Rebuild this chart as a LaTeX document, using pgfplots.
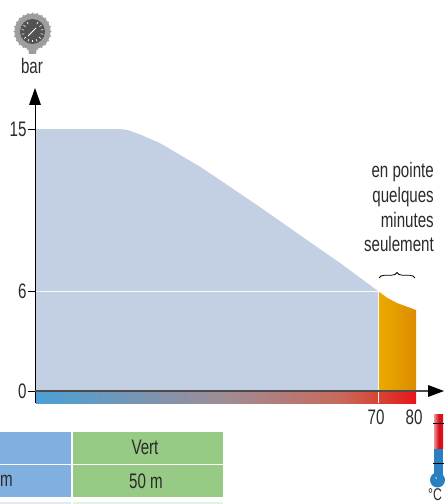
\documentclass[border=0pt]{standalone}
\usepackage{fontspec}
\setmainfont[FakeStretch=0.72]{Liberation Sans}
\usepackage{pgfplots}
\pgfplotsset{compat=1.18}
\usetikzlibrary{arrows.meta,decorations.pathreplacing}
\definecolor{areablue}{HTML}{C3CFE2}
\definecolor{cellblue}{HTML}{7FB0E0}
\definecolor{cellgreen}{HTML}{96CA85}
\definecolor{stripa}{HTML}{4AA0D6}
\definecolor{stripb}{HTML}{A08C94}
\definecolor{stripc}{HTML}{C76A5C}
\definecolor{stripd}{HTML}{D64535}
\definecolor{stripe}{HTML}{E8141C}
\definecolor{therblue}{HTML}{2A7FC0}
\definecolor{therred}{HTML}{D8101C}
\definecolor{inkgrey}{HTML}{2A2A2A}
\tikzset{txt/.style={font=\fontsize{21}{24}\selectfont, text=inkgrey}}
\begin{document}
\begin{tikzpicture}[x=1pt,y=-1pt,yshift=504pt]
\path[use as bounding box] (0,0) rectangle (446,504);
\begin{axis}[
at={(36pt,-403pt)}, anchor=south west,
scale only axis, width=380pt, height=315pt,
xmin=-20, xmax=80, ymin=-0.72, ymax=17.28,
y coord trafo/.code={\pgfmathparse{#1<=6 ? #1*100/6 : 100+(#1-6)*18}\pgfmathresult},
axis line style={draw=none},
clip=false,
axis y line*=left, axis x line*=bottom,
xtick={70,80}, xticklabels={70,80},
ytick={0,6,15}, yticklabels={0,6,15},
xtick style={draw=none},
ytick style={black,thin},
tick align=outside,
major tick length=8pt,
tick label style={font=\fontsize{21}{24}\selectfont, text=inkgrey},
x tick label style={yshift=5pt, xshift=-2pt},
y tick label style={xshift=2pt},
/pgf/number format/assume math mode=true,
]
\addplot[draw=none, fill=areablue] coordinates {(-20,0) (-20,15) (2.1,15) (4,14.95) (6.05,14.8) (8,14.65) (10,14.45) (12,14.28) (13.9,14.06) (17.9,13.56) (23.2,12.9) (28.4,12.17) (38.9,10.67) (49.5,9.1) (60,7.56) (70,6) (70,0)} -- cycle;
\addplot[draw=none, left color={rgb,255:red,236;green,170;blue,0}, right color={rgb,255:red,220;green,140;blue,0}] coordinates {(70,0) (70,6) (72.5,5.58) (75,5.28) (80,4.86) (80,0)} -- cycle;
\addplot[draw=none, left color=stripa, right color=stripb] coordinates {(-20,-0.72) (30,-0.72) (30,0) (-20,0)} -- cycle;
\addplot[draw=none, left color=stripb, right color=stripc] coordinates {(30,-0.72) (60,-0.72) (60,0) (30,0)} -- cycle;
\addplot[draw=none, left color=stripc, right color=stripd] coordinates {(60,-0.72) (70,-0.72) (70,0) (60,0)} -- cycle;
\addplot[draw=none, left color=stripd, right color=stripe] coordinates {(70,-0.72) (80,-0.72) (80,0) (70,0)} -- cycle;
\addplot[white!90!areablue, semithick] coordinates {(-20,6) (70,6) (70,-0.72)};
\end{axis}
% axis arrows
\draw[black, line width=0.8pt] (35,403) -- (35,100);
\fill[black] (35,88) -- (41,105) -- (29,105) -- cycle;
\draw[black!70, line width=1.3pt] (35,391) -- (430,391);
\fill[black] (444,391) -- (428,385) -- (428,397) -- cycle;
% note and brace
\node[anchor=east, inner sep=0pt, txt] at (434,172) {en pointe};
\node[anchor=east, inner sep=0pt, txt] at (434,197) {quelques};
\node[anchor=east, inner sep=0pt, txt] at (434,220) {minutes};
\node[anchor=east, inner sep=0pt, txt] at (434,244) {seulement};
\draw[black, line width=0.8pt, decorate, decoration={brace, amplitude=5.5pt}] (379,278) -- (415,278);
% gauge
\fill[black!38] (32.5,31.5) circle (18);
\foreach \a in {0,15,...,345} \fill[black!38] (32.5,31.5) ++(\a:18.3) circle (0.9);
\fill[black!38] (28,47) -- (37,47) -- (36,54) -- (29,54) -- cycle;
\fill[black!68] (32.5,31.5) circle (12.5);
\foreach \a in {-60,-35,...,240} \draw[white, line width=0.6pt] (32.5,31.5) ++(\a:8.5) -- ++(\a:2.5);
\draw[white, line width=0.8pt] (28,36) -- (36,28);
\node[txt] at (32,66) {bar};
% thermometer
\shade[left color=therred!45!white, right color=therred, middle color=therred] (434,415) rectangle (443,449);
\fill[therblue] (434,449) rectangle (443,477);
\fill[therblue] (437.5,480) circle (7.5);
\fill[white!60!therblue] (436,478) circle (1);
\draw[black] (433,423) -- (444,423);
\draw[black] (433,463) -- (444,463);
\node[font=\fontsize{17}{18}\selectfont, text=inkgrey, inner sep=0pt] at (435,495) {°C};
% table
\fill[cellgreen] (73,432) rectangle (223,464);
\fill[cellgreen] (73,465) rectangle (223,497);
\fill[cellblue] (0,432) rectangle (71,464);
\fill[cellblue] (0,465) rectangle (71,497);
\fill[cellblue!25!white] (0,502) rectangle (71,504);
\fill[cellgreen!25!white] (73,502) rectangle (223,504);
\node[txt] at (145,447) {Vert};
\node[txt] at (146,481) {50 m};
\begin{scope}
\clip (0,465) rectangle (71,497);
\node[txt, anchor=east, inner sep=0pt] at (13,481) {m};
\end{scope}
\end{tikzpicture}
\end{document}
